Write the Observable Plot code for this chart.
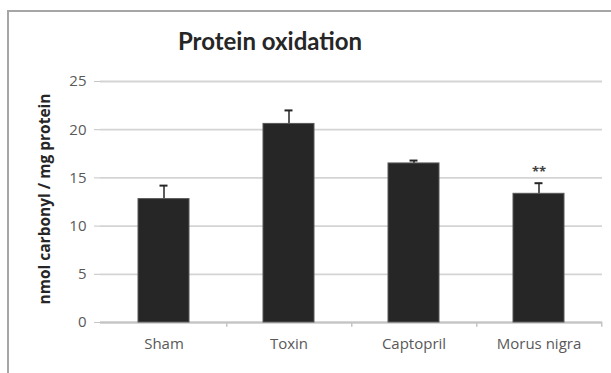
<!DOCTYPE html>
<html>
<head>
<meta charset="utf-8">
<script src="https://cdn.jsdelivr.net/npm/d3@7"></script>
<script src="https://cdn.jsdelivr.net/npm/@observablehq/plot@0.6"></script>
<style>
  body { margin: 0; background: #fff; }
  #wrap { position: relative; width: 611px; height: 373px; overflow: hidden; font-family: "Open Sans", sans-serif; }
  #frame { position: absolute; left: 7px; top: 10px; width: 620px; height: 380px; border-left: 2px solid #a6a6a6; border-top: 2px solid #a6a6a6; }
  #title { position: absolute; left: 0; width: 540px; top: 26px; text-align: center; font-family: Lato, sans-serif; font-size: 24px; font-weight: bold; color: #262626; line-height: 30px; }
  #chart { position: absolute; left: 0; top: 70px; }
</style>
</head>
<body>
<div id="wrap">
  <div id="frame"></div>
  <div id="title">Protein oxidation</div>
  <div id="chart"></div>
</div>
<script>
const categories = ["Sham", "Toxin", "Captopril", "Morus nigra"];
const means = [12.8, 20.6, 16.5, 13.35];
const errors = [1.4, 1.4, 0.3, 1.1];
const annotations = ["", "", "", "**"];
const yTicks = [0, 5, 10, 15, 20, 25];

const data = categories.map((c, i) => ({cat: c, mean: means[i], err: errors[i], note: annotations[i]}));

const chart = Plot.plot({
  width: 611,
  height: 303,
  marginLeft: 100,
  marginRight: 9,
  marginTop: 11,
  marginBottom: 51,
  style: {fontFamily: "'Open Sans', sans-serif", background: "transparent"},
  x: {domain: categories, paddingInner: 0.59, paddingOuter: 0.295, label: null},
  y: {domain: [0, 25], ticks: yTicks, label: null},
  marks: [
    Plot.gridY(yTicks, {stroke: "#d4d4d4", strokeOpacity: 1, strokeWidth: 1.8}),
    Plot.ruleX([0], {frameAnchor: "left", y1: -0.6, y2: 25, stroke: "#d4d4d4", strokeWidth: 1.8}),
    Plot.ruleX(categories, {x: d => d, dx: 62.75, y1: 0, y2: -0.5, stroke: "#c4c4c4", strokeWidth: 1.5}),
    Plot.ruleY([0], {stroke: "#c4c4c4", strokeWidth: 1.8}),
    Plot.ruleX(data, {x: "cat", y1: "mean", y2: d => d.mean + d.err, stroke: "#262626", strokeWidth: 1.5}),
    Plot.tickY(data, {x: "cat", y: d => d.mean + d.err, stroke: "#262626", strokeWidth: 2, insetLeft: 21.5, insetRight: 21.5}),
    Plot.barY(data, {x: "cat", y: "mean", fill: "#262626", stroke: "#595959", strokeWidth: 1}),
    Plot.text(data.filter(d => d.note), {x: "cat", y: d => d.mean + d.err + 1.15, text: "note", fontSize: 13, fontWeight: "bold", fill: "#404040"}),
    Plot.axisY(yTicks, {tickSize: 6, stroke: "#c4c4c4", tickPadding: 8, fontSize: 15, fill: "#595959", label: null}),
    Plot.axisX({tickSize: 0, tickPadding: 16, fontSize: 15, fill: "#595959", label: null}),
    Plot.text(["nmol carbonyl / mg protein"], {frameAnchor: "left", dx: -55, dy: -3, rotate: -90, textAnchor: "middle", fontSize: 15.5, fontWeight: "bold", fill: "#262626"})
  ]
});
document.getElementById("chart").appendChild(chart);
</script>
</body>
</html>
